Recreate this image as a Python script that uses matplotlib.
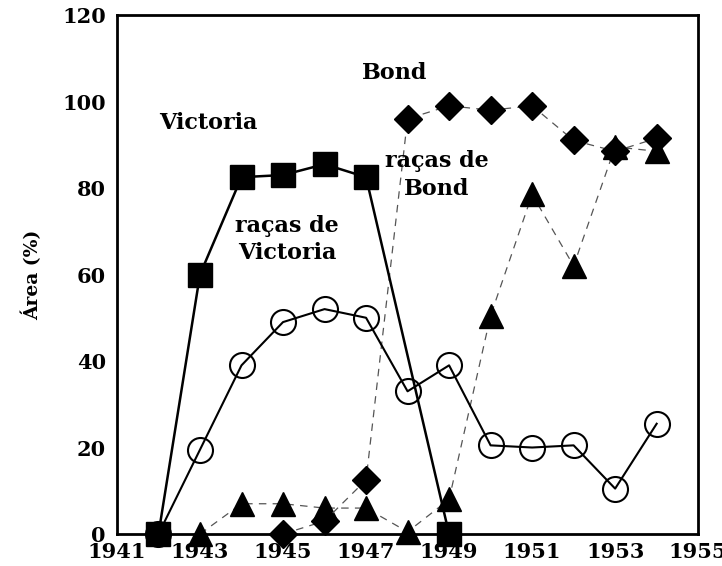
import numpy as np
import matplotlib
matplotlib.use('Agg')
import matplotlib.pyplot as plt

plt.rcParams['font.family'] = 'DejaVu Serif'
plt.rcParams['font.weight'] = 'bold'

# Victoria (squares)
vic_years = [1942, 1943, 1944, 1945, 1946, 1947, 1949]
vic_area = [0, 60, 82.5, 83, 85.5, 82.5, 0]

# racas de Victoria (open circles)
rv_years = [1942, 1943, 1944, 1945, 1946, 1947, 1948, 1949, 1950, 1951, 1952, 1953, 1954]
rv_area = [0, 19.5, 39, 49, 52, 50, 33, 39, 20.5, 20, 20.5, 10.5, 25.5]

# Bond (diamonds)
bond_years = [1945, 1946, 1947, 1948, 1949, 1950, 1951, 1952, 1953, 1954]
bond_area = [0, 3, 12.5, 96, 99, 98, 99, 91, 88.5, 91.5]

# racas de Bond (triangles)
rb_years = [1943, 1944, 1945, 1946, 1947, 1948, 1949, 1950, 1951, 1952, 1953, 1954]
rb_area = [0, 7, 7, 6, 6, 0.5, 8, 50.5, 78.5, 62, 89.5, 88.5]

fig = plt.figure(figsize=(7.22, 5.66), dpi=100)
ax = fig.add_axes([0.162, 0.0565, 0.805, 0.917])

ax.plot(rb_years, rb_area, color='#555555', ls=(0, (6, 5)), lw=0.9,
        marker='^', ms=17, mfc='black', mec='black', zorder=2, clip_on=False)
ax.plot(bond_years, bond_area, color='#555555', ls=(0, (6, 5)), lw=0.9,
        marker='D', ms=14, mfc='black', mec='black', zorder=2, clip_on=False)
ax.plot(rv_years, rv_area, color='black', lw=1.5,
        marker='o', ms=18, mfc='none', mec='black', mew=1.5, zorder=3, clip_on=False)
ax.plot(vic_years, vic_area, color='black', lw=1.8,
        marker='s', ms=17, mfc='black', mec='black', zorder=4, clip_on=False)

ax.set_xlim(1941, 1955)
ax.set_ylim(0, 120)
ax.set_xticks(np.arange(1941, 1956, 2))
ax.set_yticks(np.arange(0, 121, 20))
ax.tick_params(length=0, labelsize=15)
ax.tick_params(axis='x', pad=6)
ax.tick_params(axis='y', pad=8)
for lab in ax.get_xticklabels() + ax.get_yticklabels():
    lab.set_fontweight('bold')
for sp in ax.spines.values():
    sp.set_linewidth(2)
ax.set_ylabel('Área (%)', fontsize=13.5, fontweight='bold', labelpad=14)

ax.text(1943.2, 95, 'Victoria', fontsize=16, fontweight='bold', ha='center', va='center')
ax.text(1947.7, 106.5, 'Bond', fontsize=16, fontweight='bold', ha='center', va='center')
ax.text(1945.1, 68, 'raças de\nVictoria', fontsize=16, fontweight='bold',
        ha='center', va='center', linespacing=1.3)
ax.text(1948.7, 83, 'raças de\nBond', fontsize=16, fontweight='bold',
        ha='center', va='center', linespacing=1.3)

fig.savefig('out.png', dpi=100)
